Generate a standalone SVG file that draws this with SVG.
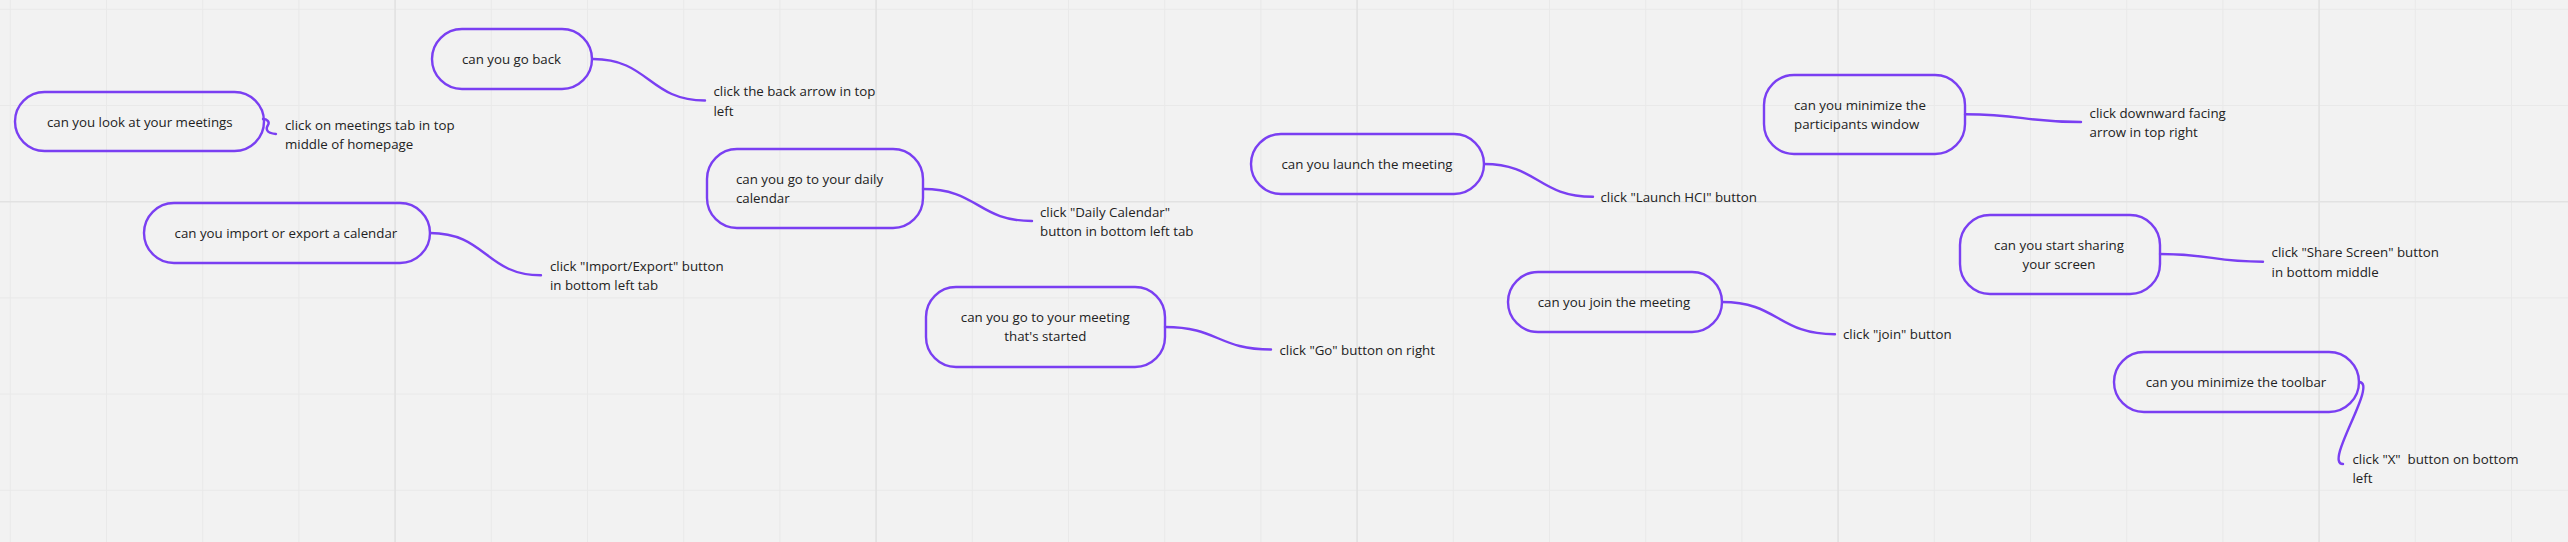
<svg xmlns="http://www.w3.org/2000/svg" width="2568" height="542" viewBox="0 0 2568 542">
<style>
.bg{fill:#f2f2f2}
.grid{stroke:#e9e9e9;stroke-width:1;fill:none}
.gridm{stroke:#e2e2e2;stroke-width:1.6;fill:none}
.node rect{fill:none;stroke:#7a3ff2;stroke-width:2.4}
.con path{fill:none;stroke:#7a3ff2;stroke-width:2.4;stroke-linecap:round}
text{font-family:"Open Sans","Liberation Sans",sans-serif;font-size:13.3px;fill:#222}
.c{text-anchor:middle}
</style>
<rect class="bg" x="0" y="0" width="2568" height="542"/>
<path class="grid" d="M10.3 0V542M106.5 0V542M202.7 0V542M298.9 0V542M491.3 0V542M587.5 0V542M683.7 0V542M779.9 0V542M972.3 0V542M1068.5 0V542M1164.7 0V542M1260.9 0V542M1453.3 0V542M1549.5 0V542M1645.7 0V542M1741.9 0V542M1934.3 0V542M2030.5 0V542M2126.7 0V542M2222.9 0V542M2415.3 0V542M2511.5 0V542M0 9.3H2568M0 105.5H2568M0 297.9H2568M0 394.1H2568M0 490.3H2568"/>
<path class="gridm" d="M395.1 0V542M876.1 0V542M1357.1 0V542M1838.1 0V542M2319.1 0V542M0 201.7H2568"/>
<g id="connectors" class="con">
<path d="M263 119 C267 119, 270 122, 268 125 C266 128, 265 133, 276 134"/>
<path d="M593 59 C649 59, 649 100.5, 705 100.5"/>
<path d="M430 233 C486 233, 486 275.3, 541 275.3"/>
<path d="M923 189 C978 189, 978 221, 1032 221"/>
<path d="M1165 327 C1218 327, 1218 349.5, 1271 349.5"/>
<path d="M1484 164 C1538 164, 1538 196.7, 1593 196.7"/>
<path d="M1722 302 C1778 302, 1778 334.3, 1835 334.3"/>
<path d="M1965 114.3 C2023 114.3, 2023 122, 2081 122"/>
<path d="M2160 254 C2212 254, 2212 261.7, 2263 261.7"/>
<path d="M2359 382 C2379 382, 2323 464, 2343 464"/>
</g>
<g id="n1" class="node"><rect x="15" y="92" width="249" height="59" rx="29.5"/><text class="c" x="139.8" y="126.5">can you look at your meetings</text></g>
<g id="l1"><text x="285" y="130.2">click on meetings tab in top</text><text x="285" y="148.8">middle of homepage</text></g>
<g id="n2" class="node"><rect x="432" y="29" width="160" height="60" rx="30"/><text class="c" x="511.5" y="63.8">can you go back</text></g>
<g id="l2"><text x="713.5" y="95.8">click the back arrow in top</text><text x="713.5" y="115.5">left</text></g>
<g id="n3" class="node"><rect x="144" y="203" width="286" height="60" rx="30"/><text class="c" x="285.9" y="237.8">can you import or export a calendar</text></g>
<g id="l3"><text x="550" y="271.2">click "Import/Export" button</text><text x="550" y="289.8">in bottom left tab</text></g>
<g id="n4" class="node"><rect x="707" y="149" width="216" height="79" rx="30"/><text x="736" y="183.8">can you go to your daily</text><text x="736" y="202.8">calendar</text></g>
<g id="l4"><text x="1040" y="216.8">click "Daily Calendar"</text><text x="1040" y="235.8">button in bottom left tab</text></g>
<g id="n5" class="node"><rect x="926" y="287" width="239" height="80" rx="30"/><text class="c" x="1045.3" y="322.2">can you go to your meeting</text><text class="c" x="1045.3" y="340.8">that's started</text></g>
<g id="l5"><text x="1279.5" y="354.8">click "Go" button on right</text></g>
<g id="n6" class="node"><rect x="1251" y="134" width="233" height="60" rx="30"/><text class="c" x="1367" y="168.8">can you launch the meeting</text></g>
<g id="l6"><text x="1600.5" y="201.5">click "Launch HCI" button</text></g>
<g id="n7" class="node"><rect x="1508" y="272" width="214" height="60" rx="30"/><text class="c" x="1614" y="306.8">can you join the meeting</text></g>
<g id="l7"><text x="1843" y="338.8">click "join" button</text></g>
<g id="n8" class="node"><rect x="1764" y="75" width="201" height="79" rx="30"/><text x="1794" y="109.8">can you minimize the</text><text x="1794" y="128.8">participants window</text></g>
<g id="l8"><text x="2089.6" y="117.8">click downward facing</text><text x="2089.6" y="136.8">arrow in top right</text></g>
<g id="n9" class="node"><rect x="1960" y="215" width="200" height="79" rx="30"/><text class="c" x="2059" y="250.2">can you start sharing</text><text class="c" x="2059" y="269.2">your screen</text></g>
<g id="l9"><text x="2271.6" y="256.8">click "Share Screen" button</text><text x="2271.6" y="276.8">in bottom middle</text></g>
<g id="n10" class="node"><rect x="2114" y="352" width="245" height="60" rx="30"/><text class="c" x="2236" y="386.8">can you minimize the toolbar</text></g>
<g id="l10"><text x="2352.5" y="463.8" style="white-space:pre">click "X"  button on bottom</text><text x="2352.5" y="482.8">left</text></g>
</svg>
